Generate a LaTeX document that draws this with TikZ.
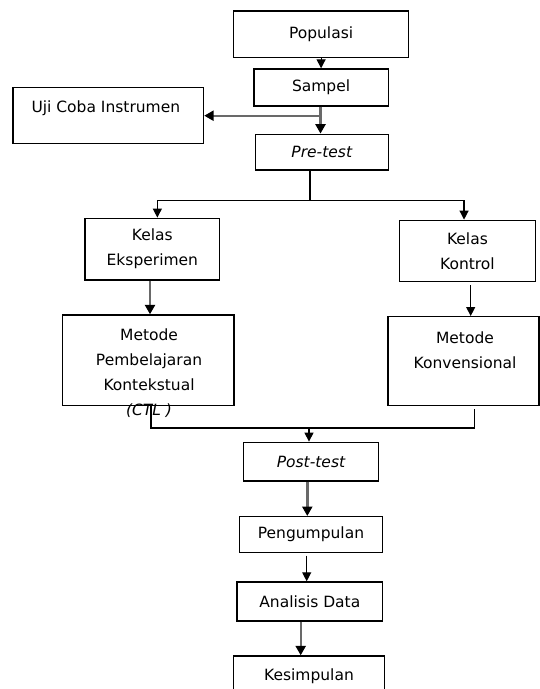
\documentclass[tikz,border=0pt]{standalone}
\usepackage{fontspec}
\setmainfont{DejaVu Sans}
\usetikzlibrary{arrows.meta}
\definecolor{lgray}{RGB}{105,105,105}
\tikzset{
  box/.style={draw=black, line width=1.4pt, inner sep=0pt, anchor=center, align=center,
              font=\fontsize{15.5}{25}\selectfont},
  txt/.style={inner sep=0pt, align=center, font=\fontsize{15.5}{25}\selectfont},
  arr/.style={draw=black, line width=1.2pt, -{Triangle[width=9pt,length=9pt]}},
  garr/.style={draw=lgray, line width=2.4pt, -{Triangle[width=10pt,length=9.5pt,color=black]}},
  plain/.style={draw=black, line width=1.3pt},
}
\begin{document}
\begin{tikzpicture}[x=1pt,y=-1pt]
\useasboundingbox (0,0) rectangle (540,689);
\clip (0,0) rectangle (540,689);
\fill[white] (0,0) rectangle (540,689);

% boxes
\node[box, minimum width=175.2pt, minimum height=46.7pt] (pop) at (321.1,34.35) {Populasi};
\node[box, minimum width=134.6pt, minimum height=37pt] (samp) at (321.1,87.5) {Sampel};
\node[box, minimum width=190.5pt, minimum height=56pt] (uji) at (108.25,115.7) {};
\node[txt] (ujiT) at ([yshift=7.4pt,xshift=-2.4pt]uji.center) {Uji Coba Instrumen};
\node[box, minimum width=133.2pt, minimum height=35.7pt] (pre) at (321.8,152.15) {\itshape Pre-test};
\node[box, minimum width=134.7pt, minimum height=61.7pt] (ke) at (152.35,249.15) {Kelas\\Eksperimen};
\node[box, minimum width=136.1pt, minimum height=61.4pt] (kk) at (467.45,251) {Kelas\\Kontrol};
\node[box, minimum width=171.1pt, minimum height=90.3pt] (ctl) at (148.25,360.15) {};
\node[txt] (ctlT) at ([yshift=-13.3pt,xshift=0.8pt]ctl.center) {Metode\\Pembelajaran\\Kontekstual\\\itshape (CTL )};
\node[box, minimum width=151pt, minimum height=88.6pt] (konv) at (463.5,361) {};
\node[txt] (konvT) at ([yshift=11pt,xshift=1.5pt]konv.center) {Metode\\Konvensional};
\node[box, minimum width=135.4pt, minimum height=38.7pt] (post) at (311,461.65) {\itshape Post-test};
\node[box, minimum width=143.4pt, minimum height=35.6pt] (peng) at (311,534.5) {Pengumpulan};
\node[box, minimum width=145.7pt, minimum height=39pt] (ana) at (309.85,601.5) {Analisis Data};
\node[box, minimum width=150.6pt, minimum height=40pt] (kes) at (309,676) {Kesimpulan};

% connectors
\draw[arr] (pop.south) -- (samp.north);
\draw[garr] ([xshift=-0.6pt]samp.south) -- ([xshift=-0.6pt]samp.south |- pre.north);
\coordinate (jA) at ([xshift=-0.6pt,yshift=-9pt]samp.south);
\draw[garr] (jA) -- (jA -| uji.east);

\coordinate (split) at ([xshift=-11.8pt,yshift=-29.6pt]pre.south);
\draw[plain] (split |- pre.south) -- (split);
\draw[arr] (split) -| ([xshift=5pt]ke.north);
\draw[arr] (split) -| ([xshift=-3.4pt]kk.north);

\draw[garr] ([xshift=-2.35pt]ke.south) -- ([xshift=-2.35pt]ke.south |- ctl.north);
\draw[arr] ([xshift=3.25pt,yshift=-3pt]kk.south) -- ([xshift=3.25pt]kk.south |- konv.north);

\coordinate (mL) at ([xshift=2.75pt]ctl.south);
\coordinate (mR) at ([xshift=11pt,yshift=-3pt]konv.south);
\coordinate (mB) at ([yshift=-22pt]mL);
\draw[plain] (mL) -- (mB) -- (mB -| mR) -- (mR);
\draw[arr] ([xshift=-2pt]mB -| post.north) -- ([xshift=-2pt]post.north);

\draw[garr] ([xshift=-3.7pt]post.south) -- ([xshift=-3.7pt]post.south |- peng.north);
\draw[arr] ([xshift=-4.3pt,yshift=-2.7pt]peng.south) -- ([xshift=-4.3pt]peng.south |- ana.north);
\draw[garr] ([xshift=-9.15pt]ana.south) -- ([xshift=-9.15pt]ana.south |- kes.north);
\end{tikzpicture}
\end{document}
